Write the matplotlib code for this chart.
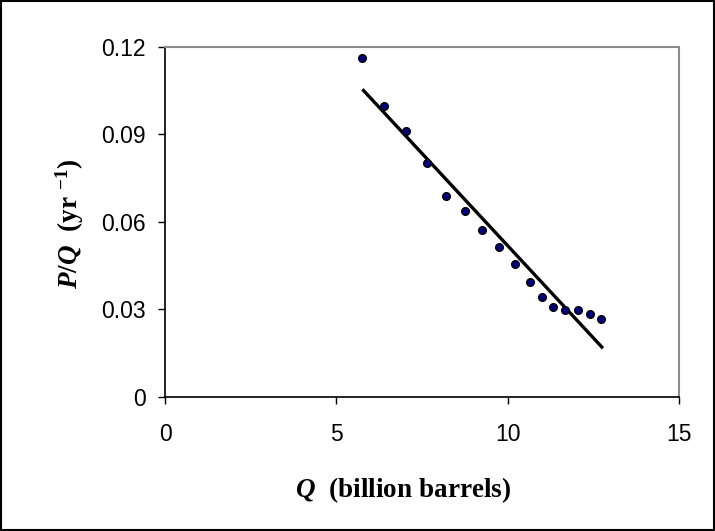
import matplotlib
matplotlib.use("Agg")
import matplotlib.pyplot as plt
from matplotlib.patches import Rectangle

# Data
q_values = [5.76, 6.38, 7.03, 7.65, 8.21, 8.76, 9.26, 9.75, 10.21, 10.66, 11.0, 11.33, 11.67, 12.04, 12.39, 12.72]
pq_values = [0.1163, 0.0999, 0.0913, 0.0801, 0.0690, 0.0638, 0.0573, 0.0514, 0.0455, 0.0395, 0.0343, 0.0310, 0.0297, 0.0297, 0.0285, 0.0266]
fit_q = [5.76, 12.78]
fit_pq = [0.1055, 0.0167]
x_ticks = [0, 5, 10, 15]
y_ticks = [0, 0.03, 0.06, 0.09, 0.12]
y_tick_labels = ["0", "0.03", "0.06", "0.09", "0.12"]

plt.rcParams['mathtext.fontset'] = 'custom'
plt.rcParams['mathtext.rm'] = 'Liberation Serif:bold'
plt.rcParams['mathtext.it'] = 'Liberation Serif:italic:bold'
plt.rcParams['mathtext.bf'] = 'Liberation Serif:bold'

fig = plt.figure(figsize=(7.15, 5.31), dpi=100)
ax = fig.add_axes([0.2308, 0.2524, 0.9497 - 0.2308, 0.9115 - 0.2524])

ax.plot(fit_q, fit_pq, color='black', linewidth=2.4, solid_capstyle='butt', zorder=2)
ax.plot(q_values, pq_values, linestyle='none', marker='o', markersize=5.5,
        markerfacecolor='#000080', markeredgecolor='black', markeredgewidth=1.0, zorder=3)

ax.set_xlim(0, 15)
ax.set_ylim(0, 0.12)
ax.set_xticks(x_ticks)
ax.set_xticklabels([str(t) for t in x_ticks])
ax.set_yticks(y_ticks)
ax.set_yticklabels(y_tick_labels)

for lab in ax.get_xticklabels() + ax.get_yticklabels():
    lab.set_fontfamily('Liberation Sans')
    lab.set_fontsize(16.5)

ax.tick_params(direction='out', length=5, width=1, color='black')
ax.tick_params(axis='x', pad=14)
ax.tick_params(axis='y', pad=9)
ax.spines['left'].set_color('black')
ax.spines['bottom'].set_color('black')
ax.spines['left'].set_linewidth(1.2)
ax.spines['bottom'].set_linewidth(1.2)
ax.spines['top'].set_color('#8c8c8c')
ax.spines['right'].set_color('#8c8c8c')
ax.spines['top'].set_linewidth(1.5)
ax.spines['right'].set_linewidth(1.5)

fig.text(0.098, 0.578, r"$P/Q\ \ \mathrm{(yr\ ^{-1})}$", rotation=90,
         ha='center', va='center', fontsize=19.5)
fig.text(0.564, 0.077, r"$Q\ \ \mathrm{(billion\ barrels)}$",
         ha='center', va='center', fontsize=19.5)

fig.patches.append(Rectangle((0.002, 0.002), 0.996, 0.996, transform=fig.transFigure,
                             fill=False, edgecolor='black', linewidth=1.5))

fig.savefig("out.png", dpi=100)
